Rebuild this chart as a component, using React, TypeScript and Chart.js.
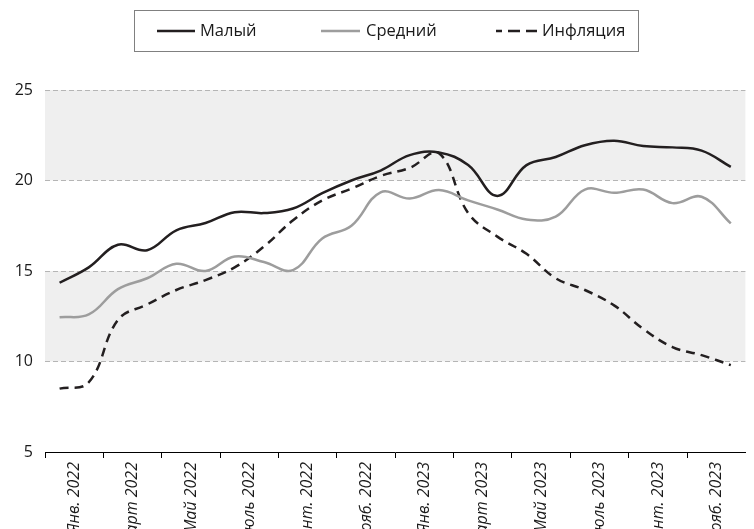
import React, { useEffect, useRef } from "react";
import { Chart, registerables } from "chart.js";

Chart.register(...registerables);

const months = [
  "Янв. 2022", "Фев. 2022", "Март 2022", "Апр. 2022", "Май 2022", "Июнь 2022",
  "Июль 2022", "Авг. 2022", "Сент. 2022", "Окт. 2022", "Нояб. 2022", "Дек. 2022",
  "Янв. 2023", "Фев. 2023", "Март 2023", "Апр. 2023", "Май 2023", "Июнь 2023",
  "Июль 2023", "Авг. 2023", "Сент. 2023", "Окт. 2023", "Нояб. 2023", "Дек. 2023",
];

const malyi = [14.35, 15.2, 16.45, 16.15, 17.25, 17.65, 18.25, 18.2, 18.45, 19.3, 20.0, 20.55,
  21.4, 21.55, 20.85, 19.15, 20.85, 21.3, 21.95, 22.2, 21.9, 21.83, 21.65, 20.75];
const sredniy = [12.45, 12.6, 14.0, 14.6, 15.4, 15.0, 15.8, 15.5, 15.05, 16.8, 17.5, 19.35,
  19.0, 19.47, 18.9, 18.4, 17.85, 18.0, 19.5, 19.32, 19.5, 18.75, 19.1, 17.63];
const inflation = [8.5, 8.85, 12.3, 13.15, 13.95, 14.5, 15.2, 16.35, 17.8, 18.9, 19.55, 20.25,
  20.7, 21.5, 18.2, 16.9, 15.95, 14.6, 13.95, 13.1, 11.8, 10.8, 10.35, 9.8];

const seriesNames = ["Малый", "Средний", "Инфляция"];
const yTicks = [5, 10, 15, 20, 25];
const bands = [[10, 15], [20, 25]];

const FONT = "'Open Sans', 'Noto Sans', sans-serif";
const DARK = "#231f20";
const GRAY = "#9d9d9d";

const bandsPlugin = {
  id: "bands",
  beforeDraw(chart: any) {
    const { ctx, chartArea, scales } = chart;
    const y = scales.y;
    ctx.save();
    ctx.fillStyle = "#efefef";
    bands.forEach(([a, b]) => {
      const y1 = y.getPixelForValue(b);
      const y2 = y.getPixelForValue(a);
      ctx.fillRect(chartArea.left, y1, chartArea.right - chartArea.left, y2 - y1);
    });
    ctx.restore();
  },
};

const legendPlugin = {
  id: "boxLegend",
  afterDraw(chart: any) {
    const { ctx } = chart;
    ctx.save();
    ctx.strokeStyle = "#808080";
    ctx.lineWidth = 1;
    ctx.strokeRect(134.5, 10.5, 504, 41);
    const yc = 31;
    const items = [
      { x1: 157, x2: 195, tx: 200, color: DARK, dash: [] as number[], off: 0 },
      { x1: 321, x2: 360, tx: 366, color: GRAY, dash: [] as number[], off: 0 },
      { x1: 496, x2: 537, tx: 542, color: DARK, dash: [12, 6], off: 6 },
    ];
    ctx.font = `16.5px ${FONT}`;
    ctx.textBaseline = "middle";
    ctx.textAlign = "left";
    items.forEach((it, i) => {
      ctx.beginPath();
      ctx.setLineDash(it.dash);
      ctx.lineDashOffset = it.off;
      ctx.strokeStyle = it.color;
      ctx.lineWidth = 2.5;
      ctx.moveTo(it.x1, yc);
      ctx.lineTo(it.x2, yc);
      ctx.stroke();
      ctx.setLineDash([]);
      ctx.fillStyle = "#1a1a1a";
      ctx.fillText(seriesNames[i], it.tx, yc);
    });
    ctx.restore();
  },
};

export default function App() {
  const ref = useRef<HTMLCanvasElement>(null);
  useEffect(() => {
    if (!ref.current) return;
    const chart = new Chart(ref.current, {
      type: "line",
      data: {
        labels: months,
        datasets: [
          { label: seriesNames[0], data: malyi, borderColor: DARK, borderWidth: 2.5, pointRadius: 0, tension: 0.4, fill: false },
          { label: seriesNames[1], data: sredniy, borderColor: GRAY, borderWidth: 2.5, pointRadius: 0, tension: 0.4, fill: false },
          { label: seriesNames[2], data: inflation, borderColor: DARK, borderWidth: 2.5, borderDash: [9, 6], pointRadius: 0, tension: 0.4, fill: false },
        ],
      },
      options: {
        responsive: false,
        animation: false,
        layout: { padding: { top: 90, right: 0, left: 0, bottom: 0 } },
        plugins: { legend: { display: false }, tooltip: { enabled: false } },
        scales: {
          x: {
            type: "category",
            offset: true,
            grid: {
              offset: true,
              drawOnChartArea: false,
              drawTicks: true,
              tickLength: 6,
              color: (c: any) => (c.index % 2 === 0 ? "#000" : "rgba(0,0,0,0)"),
              tickColor: (c: any) => (c.index % 2 === 0 ? "#000" : "rgba(0,0,0,0)"),
            },
            border: { display: true, color: "#000", width: 1 },
            ticks: {
              autoSkip: false,
              minRotation: 90,
              maxRotation: 90,
              labelOffset: 14.77,
              padding: 4,
              color: "#1a1a1a",
              font: { family: FONT, size: 16, style: "italic" },
              callback: (_v: any, i: number) => (i % 2 === 0 ? months[i] : ""),
            },
            afterFit: (s: any) => { s.height = 90; },
          },
          y: {
            min: yTicks[0],
            max: yTicks[yTicks.length - 1],
            afterBuildTicks: (s: any) => { s.ticks = yTicks.map((v) => ({ value: v })); },
            grid: {
              drawTicks: false,
              color: (c: any) => (c.tick && c.tick.value === 5 ? "rgba(0,0,0,0)" : "#b5b5b5"),
              lineWidth: 1,
            },
            border: { display: false, dash: [5, 3] },
            ticks: {
              padding: 12,
              color: "#1a1a1a",
              font: { family: FONT, size: 16 },
            },
            afterFit: (s: any) => { s.width = 45; },
          },
        },
      },
      plugins: [bandsPlugin, legendPlugin],
    });
    return () => chart.destroy();
  }, []);
  return (
    <div style={{ position: "fixed", left: 0, top: 0, width: 754, height: 542 }}>
      <canvas ref={ref} width={754} height={542} style={{ width: 754, height: 542 }} />
    </div>
  );
}
